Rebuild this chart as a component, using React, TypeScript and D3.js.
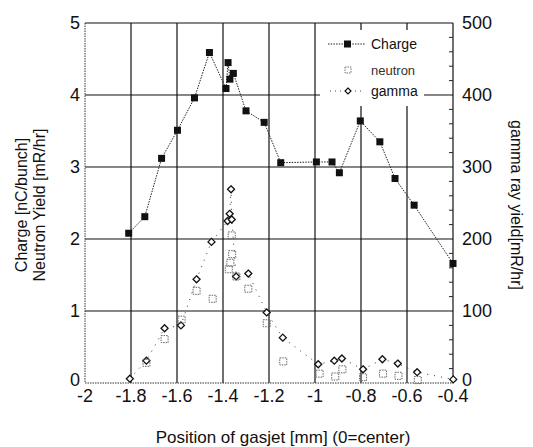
import { scaleLinear, line } from "d3";

// position of gasjet [mm], charge [nC/bunch]
const chargeX = [-1.81, -1.74, -1.667, -1.598, -1.524, -1.459, -1.387, -1.378, -1.37, -1.355, -1.3, -1.221, -1.149, -0.994, -0.926, -0.894, -0.803, -0.718, -0.652, -0.569, -0.4];
const chargeY = [2.08, 2.31, 3.12, 3.51, 3.96, 4.59, 4.09, 4.45, 4.22, 4.3, 3.78, 3.62, 3.06, 3.07, 3.07, 2.92, 3.64, 3.35, 2.84, 2.47, 1.66];

// neutron yield [mR/hr]
const neutronX = [-1.733, -1.654, -1.58, -1.515, -1.445, -1.375, -1.368, -1.362, -1.36, -1.342, -1.29, -1.21, -1.138, -0.98, -0.912, -0.881, -0.791, -0.704, -0.637, -0.553];
const neutronY = [0.28, 0.61, 0.88, 1.28, 1.17, 1.58, 1.67, 2.05, 1.79, 1.48, 1.31, 0.83, 0.3, 0.13, 0.09, 0.19, 0.08, 0.13, 0.1, 0.04];

// gamma ray yield [mR/hr] (right axis)
const gammaX = [-1.805, -1.733, -1.654, -1.583, -1.515, -1.45, -1.38, -1.371, -1.365, -1.362, -1.343, -1.29, -1.21, -1.14, -0.986, -0.916, -0.883, -0.791, -0.707, -0.64, -0.556, -0.399];
const gammaY = [6, 31, 76, 80, 144, 196, 225, 235, 269, 227, 148, 152, 98, 63, 26, 31, 34, 19, 33, 27, 15, 5];

const xTicks = [-2, -1.8, -1.6, -1.4, -1.2, -1, -0.8, -0.6, -0.4];
const yTicks = [0, 1, 2, 3, 4, 5];
const y2Ticks = [0, 100, 200, 300, 400, 500];
const y2Minor = [20, 40, 60, 80, 120, 140, 160, 180, 220, 240, 260, 280, 320, 340, 360, 380, 420, 440, 460, 480];

const font = "'Liberation Sans', Arial, sans-serif";

export default function App() {
  const left = 85, right = 453, top = 23, bottom = 383;
  let x = scaleLinear().domain([-2, -0.4]).range([left, right]);
  let y = scaleLinear().domain([0, 5]).range([bottom, top]);
  let y2 = scaleLinear().domain([0, 500]).range([bottom, top]);

  const chargeLine = line<number>()
    .x((d, i) => x(chargeX[i]))
    .y((d) => y(d));
  const gammaLine = line<number>()
    .x((d, i) => x(gammaX[i]))
    .y((d) => y2(d));

  return (
    <svg width={533} height={447} style={{ position: "absolute", left: 0, top: 0, background: "white" }} fontFamily={font}>
      {/* grid */}
      {xTicks.slice(1, -1).map((t) => (
        <line key={"vx" + t} x1={x(t)} x2={x(t)} y1={top} y2={bottom} stroke="#111" strokeWidth={1.2} />
      ))}
      {yTicks.slice(1, -1).map((t) => (
        <line key={"hy" + t} x1={left} x2={right} y1={y(t)} y2={y(t)} stroke="#111" strokeWidth={1.2} />
      ))}
      {/* frame */}
      <line x1={left} x2={right} y1={top} y2={top} stroke="#111" strokeWidth={1.2} />
      <line x1={right} x2={right} y1={top} y2={bottom} stroke="#111" strokeWidth={1.2} />
      <line x1={left} x2={left} y1={top} y2={bottom} stroke="#333" strokeDasharray="1.5 1" />
      <line x1={left} x2={right} y1={bottom} y2={bottom} stroke="#333" strokeDasharray="1.5 1" />
      {y2Minor.map((t) => (
        <line key={"m" + t} x1={right - 4} x2={right} y1={y2(t)} y2={y2(t)} stroke="#222" />
      ))}

      {/* legend background */}
      <rect x={320} y={30} width={104} height={76} fill="white" />
      <line x1={328} x2={365} y1={44} y2={44} stroke="#222" strokeDasharray="1.5 1.2" />
      <rect x={344} y={40.5} width={7} height={7} fill="#111" />
      <text x={371} y={49} fontSize={14} fill="#111">Charge</text>
      <rect x={345} y={67} width={6} height={6} fill="none" stroke="#777" strokeDasharray="1.5 1" />
      <text x={371} y={75} fontSize={13} fill="#333">neutron</text>
      <line x1={330} x2={365} y1={91} y2={91} stroke="#444" strokeDasharray="1 4" />
      <path d={`M348,88 L351,91 L348,94 L345,91 Z`} fill="white" stroke="#111" strokeWidth={1.2} />
      <text x={371} y={96} fontSize={14} fill="#111">gamma</text>

      {/* gamma */}
      <path d={gammaLine(gammaY) || ""} fill="none" stroke="#333" strokeDasharray="1 6" />
      {gammaY.map((v, i) => {
        const cx = x(gammaX[i]), cy = y2(v);
        return (
          <path key={"g" + i} d={`M${cx},${cy - 3.5} L${cx + 3.5},${cy} L${cx},${cy + 3.5} L${cx - 3.5},${cy} Z`} fill="white" stroke="#111" strokeWidth={1.3} />
        );
      })}

      {/* neutron */}
      {neutronY.map((v, i) => (
        <rect key={"n" + i} x={x(neutronX[i]) - 3.5} y={y(v) - 3.5} width={7} height={7} fill="none" stroke="#666" strokeDasharray="1.5 1" />
      ))}

      {/* charge */}
      <path d={chargeLine(chargeY) || ""} fill="none" stroke="#222" strokeDasharray="1.5 1.2" />
      {chargeY.map((v, i) => (
        <rect key={"c" + i} x={x(chargeX[i]) - 3.5} y={y(v) - 3.5} width={7} height={7} fill="#111" />
      ))}

      {/* tick labels */}
      {xTicks.map((t) => (
        <text key={"xt" + t} x={x(t)} y={402} fontSize={18} textAnchor="middle" fill="#111">{t}</text>
      ))}
      {yTicks.map((t) => (
        <text key={"yt" + t} x={80} y={y(t) + (t === 0 ? 3 : 6)} fontSize={18} textAnchor="end" fill="#111">{t}</text>
      ))}
      {y2Ticks.map((t) => (
        <text key={"y2t" + t} x={462} y={y2(t) + (t === 0 ? 3 : 6)} fontSize={18} textAnchor="start" fill="#111">{t}</text>
      ))}

      {/* axis titles */}
      <text x={283} y={443} fontSize={17} textAnchor="middle" fill="#111">Position of gasjet [mm] (0=center)</text>
      <text transform="translate(27,205) rotate(-90)" fontSize={16} textAnchor="middle" fill="#111">Charge [nC/bunch]</text>
      <text transform="translate(45,205) rotate(-90)" fontSize={16} textAnchor="middle" fill="#111">Neutron Yield [mR/hr]</text>
      <text transform="translate(511,205) rotate(90)" fontSize={16} textAnchor="middle" fill="#111">gamma ray yield[mR/hr]</text>
    </svg>
  );
}
